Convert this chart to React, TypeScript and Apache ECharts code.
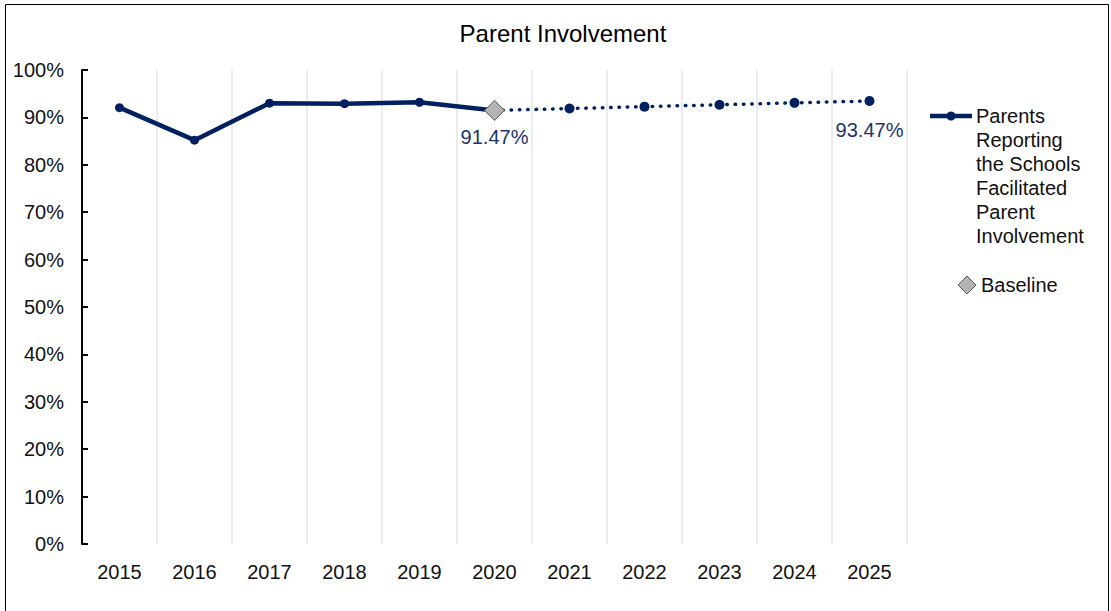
import React, { useEffect, useRef } from "react";
import * as echarts from "echarts";

const years = ["2015", "2016", "2017", "2018", "2019", "2020", "2021", "2022", "2023", "2024", "2025"];
const actualValues = [92.05, 85.2, 93.0, 92.9, 93.2, 91.47, null, null, null, null, null];
const projectedValues = [null, null, null, null, null, 91.47, 91.87, 92.27, 92.67, 93.07, 93.47];
const baselineValues = [null, null, null, null, null, 91.47, null, null, null, null, null];
const seriesName = "Parents Reporting the Schools Facilitated Parent Involvement";
const legendText = "Parents\nReporting\nthe Schools\nFacilitated\nParent\nInvolvement";
const titleText = "Parent Involvement";

const FONT = "'Liberation Sans', Arial, sans-serif";
const NAVY = "#002060";
const LABEL_NAVY = "#1a3470";

export default function App() {
  const ref = useRef<HTMLDivElement>(null);

  useEffect(() => {
    if (!ref.current) return;
    const chart = echarts.init(ref.current, null, { renderer: "svg" });
    const lastIdx = projectedValues.length - 1;
    const projData = projectedValues.map((v, i) => {
      if (v === null) return "-";
      if (i === 5) return { value: v, symbol: "none" };
      if (i === lastIdx)
        return {
          value: v,
          label: {
            show: true,
            position: "inside",
            offset: [0, 29],
            formatter: (p: any) => p.value.toFixed(2) + "%",
            color: LABEL_NAVY,
            fontSize: 20,
            fontFamily: FONT,
          },
        };
      return v;
    });

    chart.setOption({
      animation: false,
      backgroundColor: "#ffffff",
      title: {
        text: titleText,
        left: 558,
        top: 16,
        textAlign: "center",
        textStyle: { fontSize: 24, fontWeight: "normal", color: "#000", fontFamily: FONT },
      },
      grid: { left: 82, right: 204, top: 70, bottom: 67 },
      xAxis: {
        type: "category",
        data: years,
        boundaryGap: true,
        axisLine: { show: false },
        axisTick: { show: false },
        axisLabel: { color: "#111", fontSize: 20, fontFamily: FONT, margin: 18, lineHeight: 20 },
        splitLine: { show: true, interval: 0, lineStyle: { color: "#e6e6e6", width: 1.5 } },
      },
      yAxis: {
        type: "value",
        min: 0,
        max: 100,
        interval: 10,
        axisLine: { show: true, lineStyle: { color: "#000", width: 2 } },
        axisTick: { show: true, inside: true, length: 6, lineStyle: { color: "#000", width: 2 } },
        axisLabel: { formatter: "{value}%", color: "#111", fontSize: 20, fontFamily: FONT, margin: 18 },
        splitLine: { show: false },
      },
      series: [
        {
          name: seriesName,
          type: "line",
          data: actualValues.map((v) => (v === null ? "-" : v)),
          symbol: "circle",
          symbolSize: 9,
          itemStyle: { color: NAVY },
          lineStyle: { color: NAVY, width: 4.5 },
          z: 3,
        },
        {
          name: seriesName + " (projected)",
          type: "line",
          data: projData,
          symbol: "circle",
          symbolSize: 10,
          itemStyle: { color: NAVY },
          lineStyle: { color: NAVY, width: 3.5, type: [0.5, 7.8], cap: "round" },
          z: 2,
        },
        {
          name: "Baseline",
          type: "scatter",
          data: baselineValues.map((v) => (v === null ? "-" : v)),
          symbol: "diamond",
          symbolSize: [20, 20],
          itemStyle: { color: "#b3b3b3", borderColor: "#595959", borderWidth: 1, opacity: 1 },
          label: {
            show: true,
            position: "inside",
            offset: [0, 27],
            formatter: (p: any) => Number(p.value).toFixed(2) + "%",
            color: LABEL_NAVY,
            fontSize: 20,
            fontFamily: FONT,
            opacity: 1,
          },
          z: 5,
        },
      ],
      graphic: [
        {
          type: "rect",
          shape: { x: 5.5, y: 4.5, width: 1103, height: 700 },
          style: { fill: "none", stroke: "#000", lineWidth: 1 },
          silent: true,
          z: -1,
        },
        {
          type: "line",
          shape: { x1: 930, y1: 116, x2: 972, y2: 116 },
          style: { stroke: NAVY, lineWidth: 4.5 },
        },
        {
          type: "circle",
          shape: { cx: 951, cy: 116, r: 4.5 },
          style: { fill: NAVY },
        },
        {
          type: "text",
          x: 976,
          y: 104,
          style: {
            text: legendText,
            font: `20px ${FONT}`,
            lineHeight: 24,
            fill: "#111",
            textAlign: "left",
            textVerticalAlign: "top",
          },
        },
        {
          type: "polygon",
          shape: { points: [[967, 276], [976, 285], [967, 294], [958, 285]] },
          style: { fill: "#b3b3b3", stroke: "#595959", lineWidth: 1 },
        },
        {
          type: "text",
          x: 981,
          y: 285,
          style: {
            text: "Baseline",
            font: `20px ${FONT}`,
            fill: "#111",
            textAlign: "left",
            textVerticalAlign: "middle",
          },
        },
      ],
    });
    return () => chart.dispose();
  }, []);

  return (
    <div
      ref={ref}
      style={{ position: "absolute", left: 0, top: 0, width: 1111, height: 611 }}
    />
  );
}
